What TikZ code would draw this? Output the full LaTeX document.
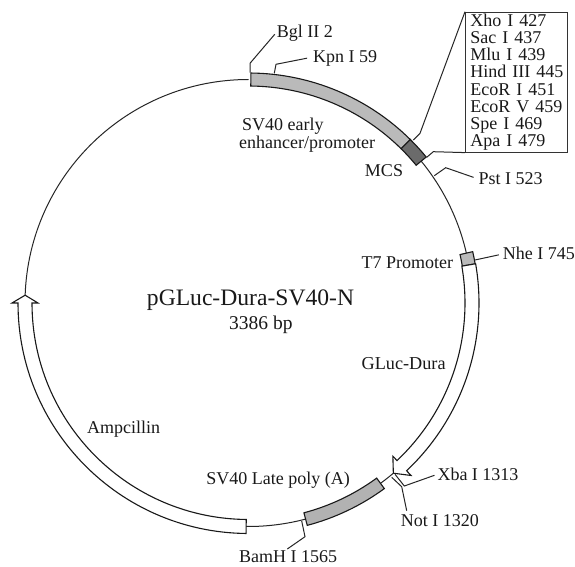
\documentclass[tikz,border=0pt]{standalone}
\usepackage{fontspec}
\setmainfont{Liberation Serif}
\tikzset{
  x=1pt,y=1pt,
  ring/.style={line width=1pt,draw=black!85},
  lead/.style={line width=1pt,draw=black!85,line join=miter},
  feature/.style={line width=1.1pt,draw=black!90,line join=miter},
  lab/.style={inner sep=0pt,text height=11.9pt,text depth=0pt,font=\fontsize{18}{18}\selectfont,text=black!90},
  gene/.style={feature,fill=white},
}
% #1 style, #2 start angle, #3 end angle : a ring segment
\newcommand\ringseg[3]{%
  \draw[#1] (#2:230pt) arc[start angle=#2,end angle=#3,radius=230pt]
    -- (#3:217pt) arc[start angle=#3,end angle=#2,radius=217pt] -- cycle;}
\newcommand\bx{\hspace*{5pt}}
\begin{document}
\begin{tikzpicture}
\useasboundingbox (0,0) rectangle (575,566);
\fill[white] (0,0) rectangle (575,566);

% backbone and features
\begin{scope}[shift={(248.5,263)}]
  \draw[ring] (90:223.5pt) arc[start angle=90,end angle=178,radius=223.5pt];
  \draw[ring] (39.4:223.5pt) arc[start angle=39.4,end angle=12.9,radius=223.5pt];
  \draw[ring] (-49.6:223.5pt) arc[start angle=-49.6,end angle=-53.8,radius=223.5pt];
  \draw[ring] (-75.2:223.5pt) arc[start angle=-75.2,end angle=-90.6,radius=223.5pt];
  \ringseg{feature,fill=black!27}{89.4}{45.3}
  \ringseg{feature,fill=black!58}{45.3}{39.4}
  \ringseg{feature,fill=black!27}{12.9}{9.8}
  \ringseg{feature,fill=black!30}{-53.8}{-75.2}
  % GLuc arrow
  \draw[gene] (9.8:230.5pt) arc[start angle=9.8,end angle=-46.7,radius=230.5pt]
     -- (-46.7:237pt) -- (-49.6:223.5pt) -- (-46.7:210.5pt) -- (-46.7:216.5pt)
     arc[start angle=-46.7,end angle=9.8,radius=216.5pt] -- cycle;
  % Ampicillin arrow
  \draw[gene] (-90.6:230.5pt) arc[start angle=-90.6,end angle=-180,radius=230.5pt]
     -- (-180:236.5pt) -- (-182:223.5pt) -- (-180:210.5pt) -- (-180:216.5pt)
     arc[start angle=-180,end angle=-90.6,radius=216.5pt] -- cycle;
\end{scope}

% labels
\node[lab,anchor=west] (bgl) at (276.7,534) {Bgl II 2};
\node[lab,anchor=west] (kpn) at (313,509) {Kpn I 59};
\node[lab,anchor=west] (pst) at (478.3,387) {Pst I 523};
\node[lab,anchor=west] (nhe) at (502.7,312) {Nhe I 745};
\node[lab,anchor=east] (t7) at (453.3,303) {T7 Promoter};
\node[lab,anchor=center] (mcs) at (384,395) {MCS};
\node[inner sep=0pt,anchor=west,align=left,font=\fontsize{18}{18.3}\selectfont,text=black!90] (early) at (239,431) {\hspace{3pt}SV40 early\\enhancer/promoter};
\node[lab,anchor=west,font=\fontsize{18.2}{18}\selectfont] (gluc) at (361.5,202.3) {GLuc-Dura};
\node[lab,anchor=center,text height=15.6pt,font=\fontsize{23.6}{24}\selectfont] (title) at (250.5,268) {pGLuc-Dura-SV40-N};
\node[lab,anchor=west,text height=12.9pt,font=\fontsize{19.5}{20}\selectfont] (size) at (229,243) {3386 bp};
\node[lab,anchor=west] (xba) at (437.3,91.7) {Xba I 1313};
\node[lab,anchor=west] (notI) at (400.7,45.3) {Not I 1320};
\node[lab,anchor=west] (bam) at (239,9.5) {BamH I 1565};
\node[lab,anchor=east] (late) at (350,87) {SV40 Late poly (A)};
\node[lab,anchor=west] (amp) at (87,138) {Ampcillin};
\node[draw=black!80,line width=.9pt,anchor=north west,inner sep=0pt,
      text width=102.3pt,minimum height=140pt,align=left,text=black!90,
      font=\fontsize{18}{17.1}\selectfont] (box) at (465,554.3)
  {\bx Xho I 427\\\bx Sac I 437\\\bx Mlu I 439\\\bx Hind III 445\\\bx EcoR I 451\\\bx EcoR V 459\\\bx Spe I 469\\\bx Apa I 479};

% sites and knees
\coordinate (sBgl) at (250,493.3);  \coordinate (kBgl) at (250,502.7);
\coordinate (sKpn) at (274.3,492.7);\coordinate (kKpn) at (276,501.7);
\coordinate (sM1) at (413.3,426);   \coordinate (kM1) at (420,432.7);
\coordinate (sM2) at (426.7,408.7); \coordinate (kM2) at (433.3,414.3);
\coordinate (sPst) at (434.3,390.3);\coordinate (kPst) at (445.7,398.3);
\coordinate (sNhe) at (475,306);
\coordinate (sXba) at (395,91.7);   \coordinate (kXba) at (404.3,80);
\coordinate (sNot) at (391.7,88.7); \coordinate (kNot) at (401.7,79.3); \coordinate (eNot) at (406.7,55.3);
\coordinate (sBam) at (301.7,45);   \coordinate (kBam) at (305,29.3);   \coordinate (eBam) at (287.3,17);

% connectors
\draw[lead,shorten >=3pt] (sBgl) -- (kBgl) -- (bgl.west);
\draw[lead,shorten >=6pt] (sKpn) -- (kKpn) -- (kpn.west);
\draw[lead] (sM1) -- (kM1) -- (box.north west);
\draw[lead] (sM2) -- (kM2) -- (box.south west);
\draw[lead,shorten >=5pt] (sPst) -- (kPst) -- (pst.west);
\draw[lead,shorten >=4pt] (sNhe) -- (nhe.west);
\draw[lead,shorten >=3pt] (sXba) -- (kXba) -- (xba.west);
\draw[lead] (sNot) -- (kNot) -- (eNot);
\draw[lead] (sBam) -- (kBam) -- (eBam);
\end{tikzpicture}
\end{document}
